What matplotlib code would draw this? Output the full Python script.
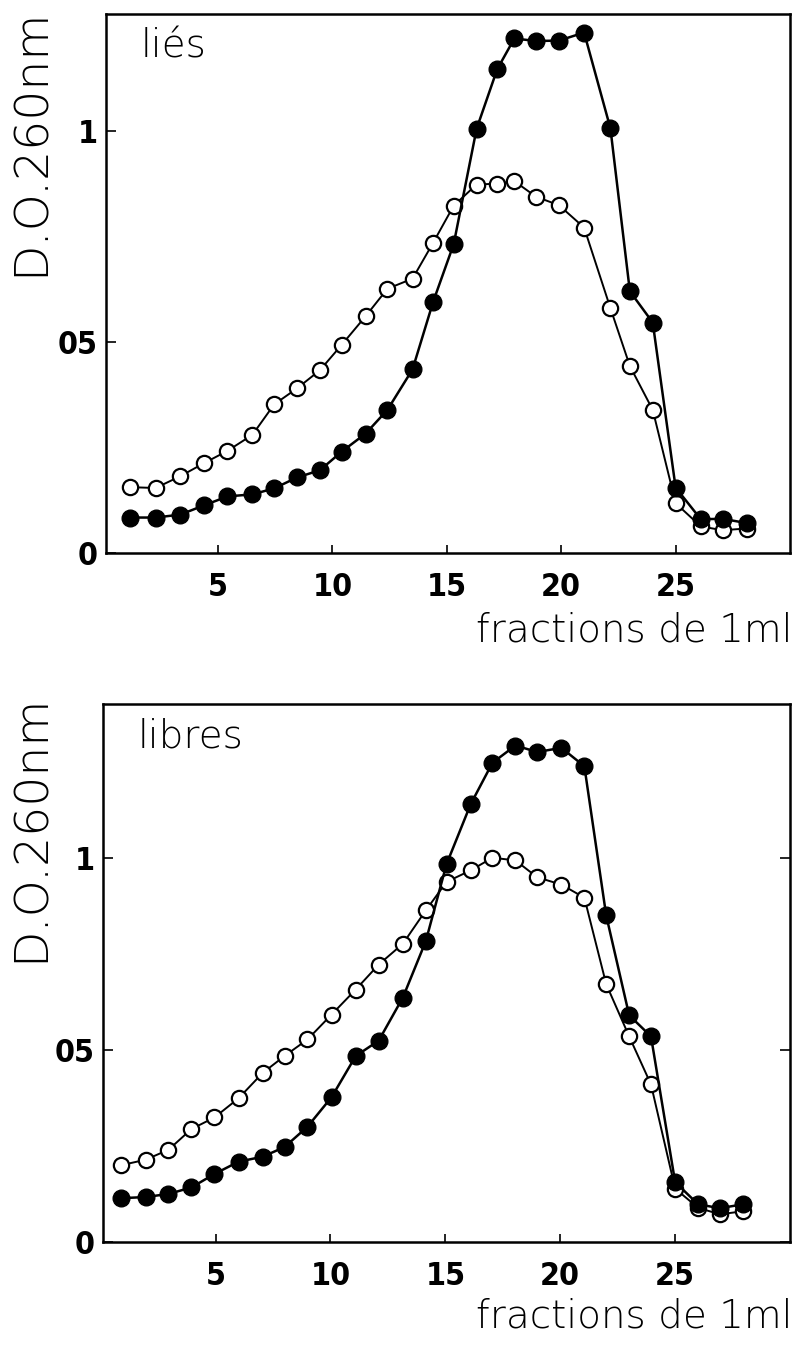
import matplotlib
matplotlib.use('Agg')
import matplotlib.pyplot as plt

# fractions collectées (1 ml) et D.O. à 260 nm
x_lies = [1.15, 2.27, 3.35, 4.39, 5.41, 6.5, 7.45, 8.45, 9.45, 10.4, 11.45, 12.4, 13.5, 14.4,
          15.3, 16.3, 17.2, 17.95, 18.9, 19.9, 21.0, 22.15, 23.0, 24.0, 25.0, 26.1, 27.05, 28.1]
lies_plein = [0.084, 0.084, 0.091, 0.113, 0.134, 0.139, 0.153, 0.179, 0.196, 0.24, 0.283, 0.339,
              0.435, 0.595, 0.732, 1.005, 1.146, 1.219, 1.213, 1.214, 1.233, 1.006, 0.62, 0.546,
              0.155, 0.08, 0.081, 0.071]
lies_vide = [0.156, 0.154, 0.182, 0.213, 0.242, 0.28, 0.352, 0.39, 0.433, 0.493, 0.561, 0.626,
             0.65, 0.735, 0.823, 0.873, 0.875, 0.881, 0.844, 0.824, 0.771, 0.58, 0.443, 0.339,
             0.118, 0.063, 0.054, 0.058]

x_libres = [0.9, 1.95, 2.95, 3.95, 4.95, 6.0, 7.05, 8.0, 9.0, 10.05, 11.1, 12.1, 13.15, 14.15,
            15.05, 16.1, 17.05, 18.05, 19.0, 20.05, 21.05, 22.0, 23.0, 23.95, 25.0, 26.0, 26.95, 27.95]
libres_plein = [0.114, 0.117, 0.125, 0.142, 0.177, 0.209, 0.222, 0.247, 0.30, 0.377, 0.484, 0.524,
                0.636, 0.783, 0.983, 1.139, 1.247, 1.292, 1.275, 1.286, 1.238, 0.85, 0.59, 0.535,
                0.156, 0.098, 0.088, 0.098]
libres_vide = [0.20, 0.214, 0.24, 0.294, 0.324, 0.374, 0.44, 0.484, 0.527, 0.592, 0.657, 0.722,
               0.776, 0.863, 0.937, 0.967, 1.0, 0.993, 0.949, 0.93, 0.896, 0.671, 0.535, 0.41,
               0.139, 0.089, 0.072, 0.08]

xticks = [5, 10, 15, 20, 25]
yticks = [0, 0.5, 1]
ytick_labels = ['0', '05', '1']

tick_font = dict(family=['DejaVu Sans'], weight='bold', stretch='condensed', size=23)
thin_font = dict(family=['DejaVu Sans'], weight=200, color='black')

W, H = 796, 1348
fig = plt.figure(figsize=(W / 100, H / 100), dpi=100)


def panel(rect, x, plein, vide, titre, ymax, right_ticks):
    l, t, r, b = rect
    ax = fig.add_axes([l / W, 1 - b / H, (r - l) / W, (b - t) / H])
    ax.plot(x, vide, '-o', color='black', lw=1.4, ms=11, mfc='white', mec='black', mew=1.6, zorder=3)
    ax.plot(x, plein, '-o', color='black', lw=1.8, ms=12, mfc='black', mec='black', zorder=4)
    ax.set_xlim(0.1, 30)
    ax.set_ylim(0, ymax)
    ax.set_xticks(xticks)
    ax.set_xticklabels([str(v) for v in xticks], fontdict=tick_font)
    ax.set_yticks(yticks)
    ax.set_yticklabels(ytick_labels, fontdict=tick_font)
    ax.tick_params(axis='x', direction='in', length=6, width=1.2, pad=14)
    ax.tick_params(axis='y', direction='in', length=7, width=1.2, pad=6, right=right_ticks)
    for s in ax.spines.values():
        s.set_linewidth(1.8)
    ax.text(0.05, 0.975, titre, transform=ax.transAxes, ha='left', va='top',
            fontsize=28, **thin_font)
    return ax


ax1 = panel((106, 14, 790, 553), x_lies, lies_plein, lies_vide, 'liés', 1.277, False)
ax2 = panel((103, 704, 790, 1242), x_libres, libres_plein, libres_vide, 'libres', 1.40, True)

# titres des axes
for yc in (142, 828):
    fig.text(31 / W, 1 - yc / H, 'D.O.260nm', rotation=90, ha='center', va='center',
             fontsize=34, **thin_font)
for yc in (630, 1316):
    fig.text(792 / W, 1 - yc / H, 'fractions de 1ml', ha='right', va='center',
             fontsize=28, **thin_font)

fig.savefig('out.png', dpi=100, facecolor='white')
